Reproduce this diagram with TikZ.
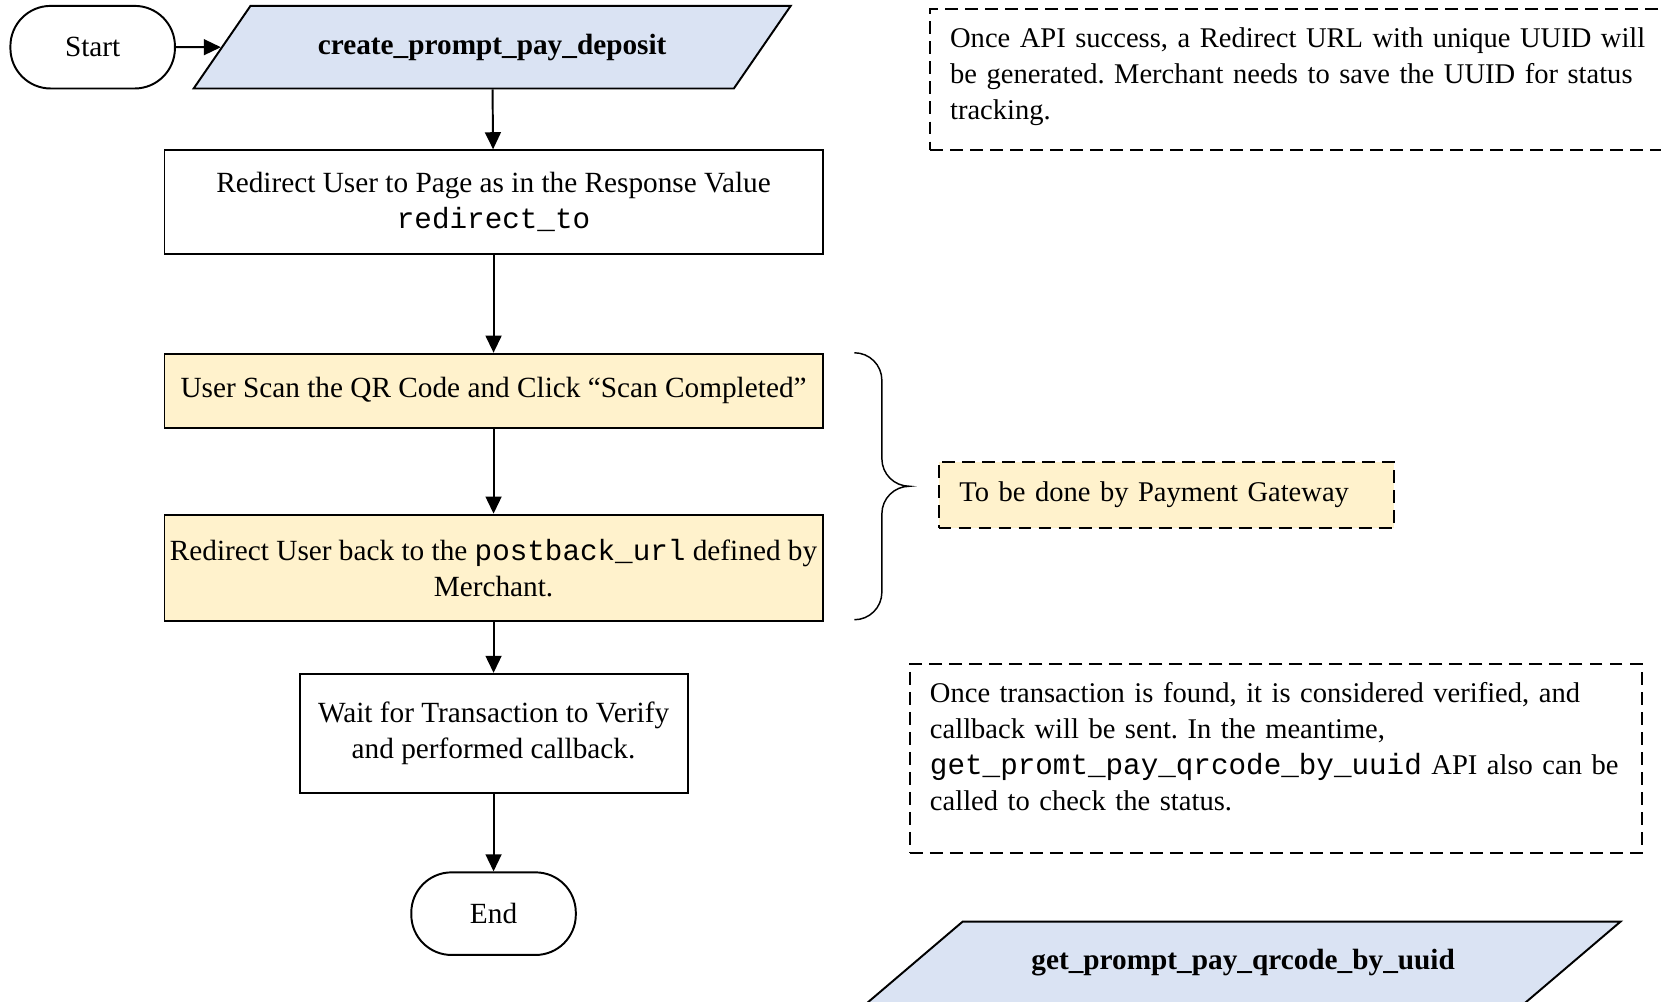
\documentclass[tikz,border=0pt]{standalone}
\usepackage{fontspec}
\setmainfont{Liberation Serif}
\setmonofont{Liberation Mono}
\usetikzlibrary{shapes.geometric,arrows.meta}
\definecolor{iofill}{HTML}{DAE3F3}
\definecolor{pgfill}{HTML}{FFF2CC}
\frenchspacing

\begin{document}
\begin{tikzpicture}[
  font=\fontsize{12}{14.8}\selectfont,
  line width=0.8pt,
  term/.style={draw, rounded corners=16.5pt, minimum width=2.37cm, minimum height=1.19cm},
  proc/.style={draw, align=center, inner xsep=1pt, minimum width=9.48cm},
  io/.style={draw, trapezium, trapezium stretches, fill=iofill, minimum height=1.19cm,
    font=\fontsize{12}{14.8}\selectfont\bfseries},
  note/.style={draw, dash pattern=on 5.3pt off 2.9pt, align=left,
    font=\fontsize{11.7}{14.8}\selectfont},
  arrow/.style={-{Triangle[length=7pt,width=6.5pt]}}
]
\useasboundingbox (0,0) rectangle (23.928,-14.421);

% main flow
\node[term] (start) at (1.335,-0.68) {Start};
\node[io, minimum width=8.62cm, trapezium left angle=45, trapezium right angle=135]
  (create) at (7.09,-0.68) {create\_prompt\_pay\_deposit};
\node[proc, minimum height=1.5cm] (page) at (7.11,-2.915)
  {Redirect User to Page as in the Response Value\\\texttt{redirect\_to}};
\node[proc, fill=pgfill, minimum height=1.07cm] (scan) at (7.11,-5.631)
  {User Scan the QR Code and Click “Scan Completed”};
\node[proc, fill=pgfill, minimum height=1.53cm] (back) at (7.11,-8.179)
  {Redirect User back to the \texttt{postback\_url} defined by\\Merchant.};
\node[proc, minimum width=5.59cm, minimum height=1.72cm] (wait) at (7.11,-10.568)
  {Wait for Transaction to Verify\\and performed callback.};
\node[term] (end) at (7.11,-13.162) {End};

\draw[arrow] (start) -- (create);
\foreach \a/\b in {create/page, page/scan, scan/back, back/wait, wait/end}
    \draw[arrow] (\a) -- (\b);

% brace over the gateway steps
\draw[line width=0.6pt] ([xshift=0.443cm]scan.north east)
  arc[start angle=90, end angle=0, radius=0.397cm] -- ++(0,-1.129)
  arc[start angle=180, end angle=270, radius=0.397cm]
  arc[start angle=90, end angle=180, radius=0.397cm] -- ++(0,-1.129)
  arc[start angle=0, end angle=-90, radius=0.397cm];

% notes
\node[note, fill=pgfill, minimum width=6.56cm, minimum height=0.95cm, text width=5.96cm,
  inner xsep=0.3cm] (gateway) at (16.80,-7.126) {To be done by Payment Gateway};
\node[note, anchor=north west, text width=11cm, inner xsep=0.29cm, inner ysep=7pt,
  text height=8.6pt, text depth=35.1pt] (uuidnote) at (13.383,-0.122)
  {Once API success, a Redirect URL with unique UUID will\\
   be generated. Merchant needs to save the UUID for status\\
   tracking.};
\node[note, anchor=north west, text width=9.965cm, inner xsep=0.29cm, inner ysep=7pt,
  text height=8.6pt, text depth=54.8pt] (verifynote) at (13.093,-9.553)
  {Once transaction is found, it is considered verified, and\\
   callback will be sent. In the meantime,\\
   {\fontsize{12}{14.8}\selectfont\ttfamily get\_promt\_pay\_qrcode\_by\_uuid} API also can be\\
   called to check the status.};

\node[io, minimum width=10.88cm, trapezium left angle=29.5, trapezium right angle=150.5]
  (query) at (17.908,-13.871) {get\_prompt\_pay\_qrcode\_by\_uuid};
\end{tikzpicture}
\end{document}
